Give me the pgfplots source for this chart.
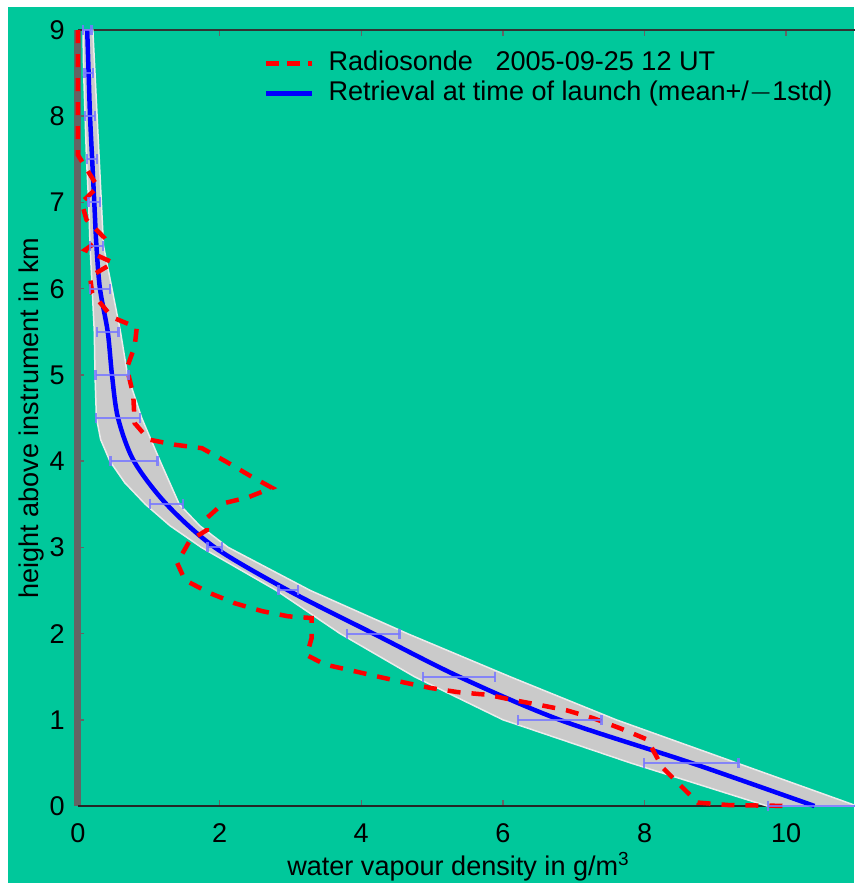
\documentclass[border=0pt]{standalone}
\usepackage{fontspec}
\setmainfont{Liberation Sans}
\usepackage{pgfplots}
\usepackage{pgfplotstable}
\pgfplotsset{compat=1.18}

\definecolor{bggreen}{RGB}{0,200,155}
\definecolor{bandgray}{RGB}{202,202,202}
\definecolor{bandedge}{RGB}{236,236,236}
\definecolor{barblue}{RGB}{120,120,255}
\definecolor{axisgray}{RGB}{100,100,100}

% retrieval: height (km), mean density, 1 std (g/m^3)
\pgfplotstableread{
h    m      e
0.0  10.40  0.66
0.5  8.66   0.67
1.0  6.80   0.59
1.5  5.38   0.51
2.0  4.17   0.37
2.5  2.97   0.14
3.0  1.93   0.10
3.5  1.25   0.23
4.0  0.79   0.33
4.5  0.565  0.31
5.0  0.48   0.23
5.5  0.42   0.15
6.0  0.31   0.14
6.5  0.26   0.09
7.0  0.23   0.08
7.5  0.20   0.07
8.0  0.17   0.07
8.5  0.15   0.06
9.0  0.13   0.06
}\retrieval

% shaded spread of the retrieval, as one closed outline
\pgfplotstableread{
x     h
9.73  0.0
7.80  0.5
6.00  1.0
4.75  1.5
3.70  2.0
2.80  2.5
1.74  3.0
1.30  3.25
0.95  3.5
0.66  3.75
0.45  4.0
0.32  4.25
0.26  4.5
0.24  5.0
0.23  5.5
0.20  6.0
0.17  6.5
0.15  7.0
0.12  7.5
0.10  8.0
0.08  8.5
0.07  9.0
0.21  9.0
0.24  8.5
0.27  8.0
0.30  7.5
0.33  7.0
0.36  6.5
0.48  6.0
0.60  5.5
0.70  5.0
0.90  4.5
1.16  4.0
1.43  3.5
1.72  3.25
2.12  3.0
3.28  2.5
4.65  2.0
6.10  1.5
7.60  1.0
9.30  0.5
11.00 0.0
}\band

% radiosonde profile
\pgfplotstableread{
x     h
0.00  9.00
0.00  7.55
0.15  7.35
0.28  7.18
0.05  7.00
0.12  6.80
0.36  6.60
0.10  6.45
0.50  6.30
0.17  6.14
0.20  5.95
0.48  5.67
0.83  5.55
0.80  5.33
0.69  5.08
0.78  4.77
0.80  4.44
1.00  4.25
1.37  4.19
1.75  4.15
2.10  3.99
2.43  3.83
2.74  3.69
2.40  3.58
2.05  3.51
1.82  3.34
1.82  3.20
1.58  3.08
1.40  2.82
1.51  2.62
1.86  2.47
2.22  2.35
2.60  2.26
2.97  2.20
3.30  2.18
3.30  1.95
3.23  1.75
3.49  1.64
3.87  1.57
4.24  1.50
4.62  1.43
4.97  1.37
5.37  1.32
5.78  1.29
6.14  1.23
6.53  1.17
6.90  1.11
7.27  1.02
7.66  0.90
8.04  0.77
8.25  0.45
8.53  0.22
8.75  0.04
9.20  0.01
10.10 0.00
}\sonde

\begin{document}
\begin{tikzpicture}
\fill[white] (0,0) rectangle (85.4mm,88.3mm);
\fill[bggreen] (0.8mm,0) rectangle (85.4mm,87.6mm);
\path[use as bounding box] (0,0) rectangle (85.4mm,88.3mm);
\begin{axis}[
  at={(7.8mm,7.7mm)}, anchor=south west,
  width=77.9mm, height=77.6mm, scale only axis,
  xmin=0, xmax=11, ymin=0, ymax=9,
  clip=false,
  axis line style={draw=none},
  xtick={0,2,...,10}, ytick={0,1,...,9},
  xtick pos=both, ytick pos=left,
  tick align=inside,
  major tick length=0.6mm,
  tick style={axisgray, line width=0.15mm},
  /pgf/number format/assume math mode=true,
  font=\fontsize{7.7}{9}\selectfont,
  ticklabel style={font=\fontsize{7.7}{9}\selectfont},
  xticklabel style={yshift=-0.5mm},
  yticklabel style={xshift=-0.1mm},
  xlabel={water vapour density in g/m\textsuperscript{3}},
  ylabel={height above instrument in km},
  xlabel style={at={(axis description cs:0.489,0)}, anchor=base, yshift=-6.9mm},
  ylabel style={at={(axis description cs:-0.0513,0.5)}, anchor=base},
  legend style={at={(axis description cs:0.238,0.974)}, anchor=north west,
    draw=none, fill=none, inner sep=0pt, row sep=0.45mm,
    font=\fontsize{7.7}{9}\selectfont,
    nodes={inner xsep=0.3mm, inner ysep=0pt, text height=2.0mm, text depth=0.55mm},
    /tikz/every odd column/.append style={column sep=1.1mm}},
  legend cell align=left,
  legend image code/.code={\draw[#1] (0mm,0mm) -- (4.6mm,0mm);},
]
% frame lines
\draw[axisgray, line width=0.7mm] (rel axis cs:0,0) -- (rel axis cs:0,1);
\draw[black!85, line width=0.2mm] (rel axis cs:0,0) -- (rel axis cs:1,0);
\draw[black!80, line width=0.2mm] (rel axis cs:0,1) -- (rel axis cs:1,1);

\addlegendimage{red, line width=0.45mm, dash pattern=on 1.3mm off 0.8mm}
\addlegendentry{Radiosonde\ \ \ 2005-09-25 12 UT}
\addlegendimage{blue, line width=0.45mm}
\addlegendentry{Retrieval at time of launch (mean+/$-$1std)}

% spread of the retrieval
\addplot[fill=bandgray, draw=bandedge, line width=0.15mm, forget plot]
  table[x=x, y=h] {\band} -- cycle;
% retrieval mean
\addplot[blue, line width=0.45mm, smooth, forget plot]
  table[x=m, y=h] {\retrieval};
% radiosonde
\addplot[red, line width=0.45mm, dash pattern=on 1.3mm off 1.1mm, forget plot]
  table[x=x, y=h] {\sonde};
% one-sigma bars
\addplot[draw=none, mark=none, forget plot,
  error bars/.cd, x dir=both, x explicit,
  error bar style={barblue, line width=0.2mm, opacity=0.85},
  error mark options={barblue, line width=0.25mm, mark size=0.5mm, rotate=90}]
  table[x=m, y=h, x error=e] {\retrieval};
\end{axis}
\end{tikzpicture}
\end{document}
